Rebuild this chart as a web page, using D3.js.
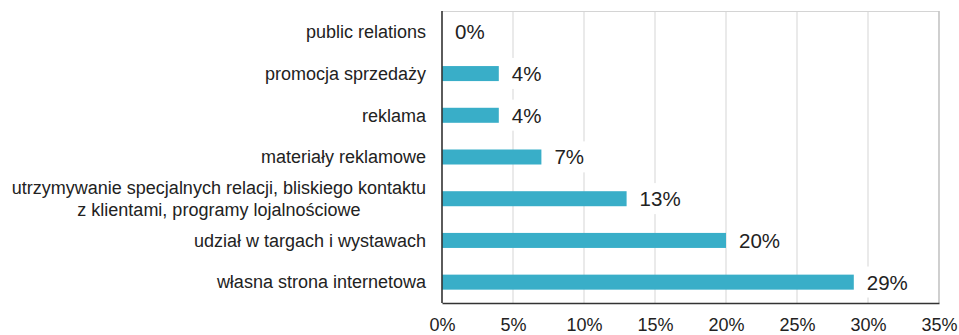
<!DOCTYPE html>
<html>
<head>
<meta charset="utf-8">
<script src="https://cdn.jsdelivr.net/npm/d3@7"></script>
<style>
  html, body { margin: 0; padding: 0; background: #fff; }
  svg { display: block; font-family: "Liberation Sans", Arial, sans-serif; }
</style>
</head>
<body>
<svg id="chart" width="959" height="335"></svg>
<script>
// Categories, top to bottom, and their shares (%)
const categories = [
  ["public relations"],
  ["promocja sprzedaży"],
  ["reklama"],
  ["materiały reklamowe"],
  ["utrzymywanie specjalnych relacji, bliskiego kontaktu", "z klientami, programy lojalnościowe"],
  ["udział w targach i wystawach"],
  ["własna strona internetowa"]
];
const values = [0, 4, 4, 7, 13, 20, 29];
const tickValues = [0, 5, 10, 15, 20, 25, 30, 35];
const tickLabels = ["0%", "5%", "10%", "15%", "20%", "25%", "30%", "35%"];

const margin = { top: 11, right: 20, bottom: 32, left: 442 };
const W = 959, H = 335;
const svg = d3.select("#chart");

const x = d3.scaleLinear().domain([0, 35]).range([margin.left, W - margin.right]);
const y = d3.scaleBand().domain(d3.range(categories.length))
  .range([margin.top, H - margin.bottom]).paddingInner(0.64).paddingOuter(0.32);

// gridlines
svg.append("g").selectAll("line").data(tickValues.slice(1)).join("line")
  .attr("x1", d => x(d)).attr("x2", d => x(d))
  .attr("y1", margin.top).attr("y2", H - margin.bottom)
  .attr("stroke", "#dcdcdc").attr("stroke-width", 1.2);

// frame: light top edge
svg.append("line").attr("x1", x(0)).attr("x2", x(35))
  .attr("y1", margin.top + 0.5).attr("y2", margin.top + 0.5)
  .attr("stroke", "#d4d4d4").attr("stroke-width", 1.2);

// bars
svg.append("g").selectAll("rect").data(values).join("rect")
  .attr("x", x(0))
  .attr("y", (d, i) => y(i))
  .attr("width", d => x(d) - x(0))
  .attr("height", y.bandwidth())
  .attr("fill", "#39aec8");

// value labels with white backing
const vl = svg.append("g").selectAll("g").data(values).join("g")
  .attr("transform", (d, i) => `translate(${x(d) + 13},${y(i) + y.bandwidth() / 2})`);
vl.append("text")
  .attr("dy", "0.36em")
  .attr("font-size", 20.5)
  .attr("fill", "#222")
  .text(d => d + "%");
vl.each(function () {
  const g = d3.select(this);
  const bb = g.select("text").node().getBBox();
  g.insert("rect", "text")
    .attr("x", bb.x - 4).attr("y", bb.y - 4)
    .attr("width", bb.width + 8).attr("height", bb.height + 8)
    .attr("fill", "#fff");
});

// category labels (multi-line labels centred on their longest line)
const cat = svg.append("g").selectAll("text").data(categories).join("text")
  .attr("font-size", 18)
  .attr("fill", "#222");
cat.each(function (lines, i) {
  const t = d3.select(this);
  const lh = 22;
  const y0 = y(i) + y.bandwidth() / 2 - (lines.length - 1) * lh / 2;
  const spans = lines.map((s, k) => t.append("tspan")
    .attr("y", y0 + k * lh).attr("dy", "0.35em").text(s));
  const widths = spans.map(sp => sp.node().getComputedTextLength());
  const maxW = d3.max(widths);
  const right = x(0) - 16;
  spans.forEach((sp, k) => sp.attr("x", right - maxW / 2 - widths[k] / 2));
});

// right edge of the frame
svg.append("line").attr("x1", x(35)).attr("x2", x(35))
  .attr("y1", margin.top).attr("y2", H - margin.bottom)
  .attr("stroke", "#c4c4c4").attr("stroke-width", 1.4);

// axes
const xAxis = svg.append("g")
  .attr("transform", `translate(0,${H - margin.bottom})`)
  .call(d3.axisBottom(x).tickValues(tickValues).tickFormat((d, i) => tickLabels[i]).tickSize(0).tickPadding(0));
xAxis.select(".domain").attr("stroke", "#333").attr("stroke-width", 1.6);
xAxis.selectAll("text")
  .attr("y", 28).attr("dy", null)
  .attr("font-size", 18).attr("fill", "#222")
  .attr("font-family", "Liberation Sans, Arial, sans-serif");

svg.append("line").attr("x1", x(0)).attr("x2", x(0))
  .attr("y1", margin.top).attr("y2", H - margin.bottom)
  .attr("stroke", "#333").attr("stroke-width", 1.6);
</script>
</body>
</html>
